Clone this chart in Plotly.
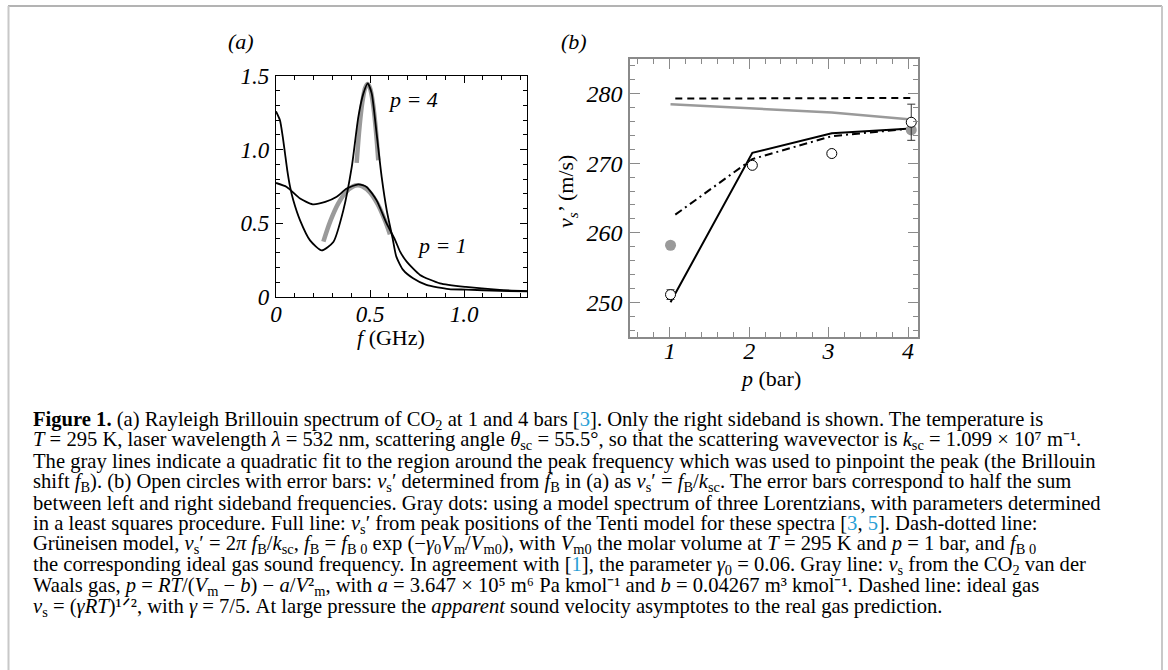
import plotly.graph_objects as go

W, H = 1168, 670

# ---- panel (a): Rayleigh-Brillouin spectra of CO2 ----
f_p4 = [0, 0.021, 0.036, 0.048, 0.060, 0.075, 0.092, 0.128, 0.181, 0.243, 0.305, 0.358,
        0.403, 0.438, 0.465, 0.488, 0.509, 0.535, 0.562, 0.589, 0.62, 0.64, 0.676, 0.729,
        0.80, 0.92, 1.01, 1.19, 1.335]
I_p4 = [1.26, 1.20, 1.087, 0.974, 0.86, 0.747, 0.656, 0.52, 0.384, 0.316, 0.373, 0.588,
        0.883, 1.223, 1.382, 1.450, 1.382, 1.11, 0.815, 0.588, 0.40, 0.274, 0.184, 0.127,
        0.082, 0.054, 0.05, 0.042, 0.038]

f_p1 = [0, 0.057, 0.128, 0.195, 0.262, 0.323, 0.376, 0.438, 0.482, 0.535, 0.589, 0.633,
        0.66, 0.695, 0.766, 0.872, 1.01, 1.19, 1.335]
I_p1 = [0.774, 0.747, 0.668, 0.629, 0.645, 0.68, 0.736, 0.765, 0.747, 0.656, 0.498, 0.388,
        0.308, 0.24, 0.15, 0.093, 0.068, 0.048, 0.04]

# gray quadratic fits around the peaks
f_fit4 = [0.429, 0.445, 0.46, 0.475, 0.487, 0.50, 0.515, 0.53, 0.544]
I_fit4 = [0.91, 1.165, 1.329, 1.422, 1.445, 1.418, 1.32, 1.151, 0.928]
f_fit1 = [0.252, 0.29, 0.33, 0.37, 0.41, 0.435, 0.46, 0.50, 0.54, 0.58, 0.606]
I_fit1 = [0.376, 0.518, 0.632, 0.71, 0.751, 0.758, 0.751, 0.71, 0.632, 0.518, 0.425]

# ---- panel (b): sound velocity vs pressure ----
pressure = [1.01, 2.04, 3.04, 4.04]
v_meas = [251.1, 269.7, 271.4, 275.9]
v_err = [0.7, 0.3, 0.3, 2.6]
p_lor = [1.01, 4.04]
v_lor = [258.2, 274.8]
v_tenti = [250.0, 271.5, 274.3, 275.0]
p_grun = [1.07, 2.04, 3.04, 4.04]
v_grun = [262.6, 270.6, 273.9, 275.0]
v_vdw = [278.5, 277.9, 277.3, 276.3]
p_ideal = [1.07, 4.04]
v_ideal = [279.3, 279.4]


def px(x):
    return x / W


def py(y):
    return 1 - y / H


SERIF = "Liberation Serif"
fig = go.Figure()

fig.add_trace(go.Scatter(x=f_fit4, y=I_fit4, mode="lines", line=dict(color="#9a9a9a", width=4.5, shape="spline"),
                         xaxis="x", yaxis="y"))
fig.add_trace(go.Scatter(x=f_fit1, y=I_fit1, mode="lines", line=dict(color="#9a9a9a", width=4.5, shape="spline"),
                         xaxis="x", yaxis="y"))
fig.add_trace(go.Scatter(x=f_p1, y=I_p1, mode="lines", line=dict(color="black", width=1.8, shape="spline", smoothing=0.6),
                         xaxis="x", yaxis="y"))
fig.add_trace(go.Scatter(x=f_p4, y=I_p4, mode="lines", line=dict(color="black", width=1.8, shape="spline", smoothing=0.6),
                         xaxis="x", yaxis="y"))

fig.add_trace(go.Scatter(x=pressure, y=v_vdw, mode="lines", line=dict(color="#9a9a9a", width=2.5),
                         xaxis="x2", yaxis="y2"))
fig.add_trace(go.Scatter(x=p_ideal, y=v_ideal, mode="lines", line=dict(color="black", width=2, dash="7px,5px"),
                         xaxis="x2", yaxis="y2"))
fig.add_trace(go.Scatter(x=p_grun, y=v_grun, mode="lines", line=dict(color="black", width=2, dash="8px,4px,2px,4px"),
                         xaxis="x2", yaxis="y2"))
fig.add_trace(go.Scatter(x=pressure, y=v_tenti, mode="lines", line=dict(color="black", width=2),
                         xaxis="x2", yaxis="y2"))
fig.add_trace(go.Scatter(x=p_lor, y=v_lor, mode="markers", marker=dict(color="#9a9a9a", size=11),
                         xaxis="x2", yaxis="y2"))
fig.add_trace(go.Scatter(x=pressure, y=v_meas, mode="markers",
                         marker=dict(color="white", size=10, line=dict(color="black", width=1)),
                         error_y=dict(type="data", array=v_err, color="#333", thickness=1, width=4),
                         xaxis="x2", yaxis="y2"))

tickfont_a = dict(family=SERIF, size=23, color="black", style="italic")
tickfont_b = dict(family=SERIF, size=24, color="black", style="italic")

axis_a = dict(showgrid=False, zeroline=False, showline=True, linecolor="black", linewidth=1.3,
              mirror="allticks", ticks="inside", ticklen=7, tickcolor="black", tickwidth=1,
              tickfont=tickfont_a, automargin=False)
axis_b = dict(showgrid=False, zeroline=False, showline=True, linecolor="#8a8a8a", linewidth=1.5,
              mirror="allticks", ticks="inside", ticklen=10, tickcolor="#8a8a8a", tickwidth=1,
              tickfont=tickfont_b, automargin=False)

fig.update_layout(
    width=W, height=H, showlegend=False,
    margin=dict(l=0, r=0, t=0, b=0),
    paper_bgcolor="white", plot_bgcolor="white",
    xaxis=dict(axis_a, domain=[px(276), px(527)], range=[0, 1.335], anchor="y",
               tickvals=[0, 0.5, 1.0], ticktext=["0", "0.5", "1.0"], ticklabelstandoff=-4,
               minor=dict(dtick=0.1, tick0=0, ticks="inside", ticklen=4, tickcolor="black")),
    yaxis=dict(axis_a, domain=[py(297), py(76)], range=[0, 1.5], anchor="x",
               tickvals=[0, 0.5, 1.0, 1.5], ticktext=["0", "0.5", "1.0", "1.5"], ticklabelstandoff=1,
               minor=dict(dtick=0.1, tick0=0, ticks="inside", ticklen=4, tickcolor="black")),
    xaxis2=dict(axis_b, domain=[px(630), px(918)], range=[0.5, 4.125], anchor="y2",
                tickvals=[1, 2, 3, 4], ticktext=["1", "2", "3", "4"], ticklabelstandoff=-9,
                minor=dict(dtick=0.2, tick0=0, ticks="inside", ticklen=5, tickcolor="#8a8a8a")),
    yaxis2=dict(axis_b, domain=[py(337), py(59)], range=[245, 285], anchor="x2",
                tickvals=[250, 260, 270, 280], ticktext=["250", "260", "270", "280"], ticklabelstandoff=1,
                minor=dict(dtick=2, tick0=0, ticks="inside", ticklen=5, tickcolor="#8a8a8a")),
)

ann = []


def add_text(x, y, text, size=20, italic=False, xanchor="center", angle=0):
    ann.append(dict(x=px(x), y=py(y), xref="paper", yref="paper", text=text, showarrow=False,
                    xanchor=xanchor, yanchor="middle", textangle=angle,
                    font=dict(family=SERIF, size=size, color="black", style="italic" if italic else "normal")))


add_text(241, 42, "(a)", 22, italic=True)
add_text(574, 42, "(b)", 22, italic=True)
add_text(413, 100, "p = 4", 22, italic=True)
add_text(442, 245, "p = 1", 22, italic=True)
add_text(391, 337, "<i>f</i> (GHz)", 22)
add_text(770, 378, "<i>p</i> (bar)", 22)
add_text(567, 192, "<i>ν<sub>s</sub></i>’ (m/s)", 22, angle=-90)

REF = "#2a9fd6"
caption = [
    "<b>Figure 1.</b> (a) Rayleigh Brillouin spectrum of CO<sub>2</sub> at 1 and 4 bars [<span style='color:" + REF + "'>3</span>]. Only the right sideband is shown. The temperature is",
    "<i>T</i> = 295 K, laser wavelength <i>λ</i> = 532 nm, scattering angle <i>θ</i><sub>sc</sub> = 55.5°, so that the scattering wavevector is <i>k</i><sub>sc</sub> = 1.099 × 10⁷ m⁻¹.",
    "The gray lines indicate a quadratic fit to the region around the peak frequency which was used to pinpoint the peak (the Brillouin",
    "shift <i>f</i><sub>B</sub>). (b) Open circles with error bars: <i>ν</i><sub>s</sub>′ determined from <i>f</i><sub>B</sub> in (a) as <i>ν</i><sub>s</sub>′ = <i>f</i><sub>B</sub>/<i>k</i><sub>sc</sub>. The error bars correspond to half the sum",
    "between left and right sideband frequencies. Gray dots: using a model spectrum of three Lorentzians, with parameters determined",
    "in a least squares procedure. Full line: <i>ν</i><sub>s</sub>′ from peak positions of the Tenti model for these spectra [<span style='color:" + REF + "'>3</span>, <span style='color:" + REF + "'>5</span>]. Dash-dotted line:",
    "Grüneisen model, <i>ν</i><sub>s</sub>′ = 2<i>π f</i><sub>B</sub>/<i>k</i><sub>sc</sub>, <i>f</i><sub>B</sub> = <i>f</i><sub>B 0</sub> exp (−<i>γ</i><sub>0</sub><i>V</i><sub>m</sub>/<i>V</i><sub>m0</sub>), with <i>V</i><sub>m0</sub> the molar volume at <i>T</i> = 295 K and <i>p</i> = 1 bar, and <i>f</i><sub>B 0</sub>",
    "the corresponding ideal gas sound frequency. In agreement with [<span style='color:" + REF + "'>1</span>], the parameter <i>γ</i><sub>0</sub> = 0.06. Gray line: <i>ν</i><sub>s</sub> from the CO<sub>2</sub> van der",
    "Waals gas, <i>p</i> = <i>RT</i>/(<i>V</i><sub>m</sub> − <i>b</i>) − <i>a</i>/<i>V</i>²<sub>m</sub>, with <i>a</i> = 3.647 × 10⁵ m⁶ Pa kmol⁻¹ and <i>b</i> = 0.04267 m³ kmol⁻¹. Dashed line: ideal gas",
    "<i>ν</i><sub>s</sub> = (<i>γRT</i>)¹ᐟ², with <i>γ</i> = 7/5. At large pressure the <i>apparent</i> sound velocity asymptotes to the real gas prediction.",
]
for i, line in enumerate(caption):
    add_text(31, 420 + 20.8 * i, line, 20.6, xanchor="left")

fig.update_layout(annotations=ann)

# thin gray page frame
frame = dict(type="line", xref="paper", yref="paper")
fig.update_layout(shapes=[
    dict(frame, x0=px(8), x1=px(1162), y0=py(6), y1=py(6), line=dict(color="#9a9a9a", width=1.5)),
    dict(frame, x0=px(8.5), x1=px(8.5), y0=py(6), y1=0, line=dict(color="#c8c8c8", width=2)),
    dict(frame, x0=px(1162), x1=px(1162), y0=py(6), y1=0, line=dict(color="#c8c8c8", width=2)),
])

# drop the default page margin so figure pixels line up with the window
fig.write_html("out.html", config={"displayModeBar": False},
               post_script="document.body.style.margin = '0px';")
